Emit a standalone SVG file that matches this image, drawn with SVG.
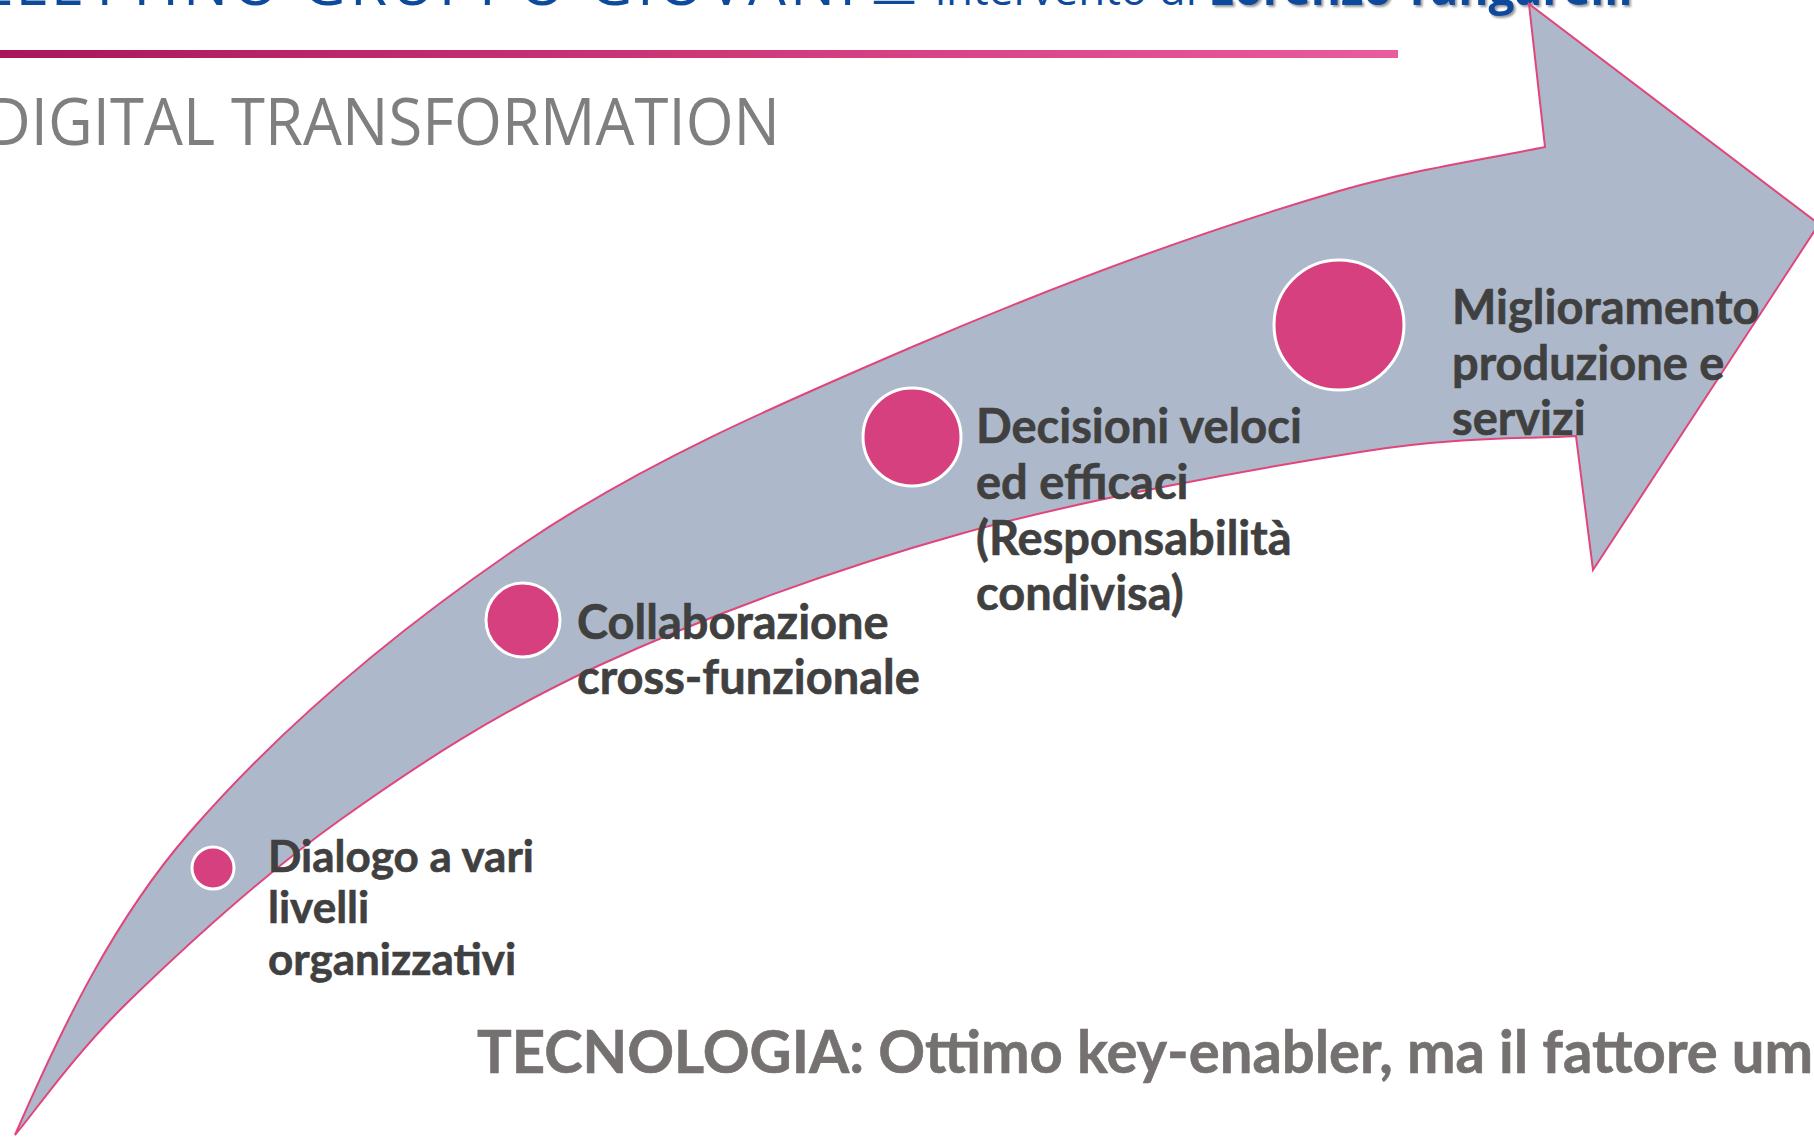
<svg xmlns="http://www.w3.org/2000/svg" width="1814" height="1137" viewBox="0 0 1814 1137">
<defs>
<linearGradient id="bar" x1="0" y1="0" x2="1" y2="0">
<stop offset="0" stop-color="#a8175a"/>
<stop offset="0.5" stop-color="#cf3777"/>
<stop offset="1" stop-color="#ea5c9b"/>
</linearGradient>
<filter id="sh" x="-5%" y="-50%" width="110%" height="200%">
<feDropShadow dx="2" dy="2" stdDeviation="1.2" flood-color="#555" flood-opacity="0.6"/>
</filter>
<style>
.lbl{font-family:Lato,"Open Sans",sans-serif;font-weight:700;fill:#404040;stroke:#404040;stroke-width:0.6px}
.l1{font-size:44px}
.l2{font-size:47px}
.dot{fill:#d6407e;stroke:#ffffff;stroke-width:3}
.hdr{font-family:"Open Sans","Liberation Sans",sans-serif;fill:#0d4a9c}
</style>
</defs>
<rect width="1814" height="1137" fill="#ffffff"/>
<g id="header">
<text class="hdr" x="860" y="5" font-size="60" letter-spacing="4" text-anchor="end">BOLLETTINO GRUPPO GIOVANI</text>
<text class="hdr" x="872" y="14" font-size="44">—</text>
<text class="hdr" x="935" y="5" font-size="44">intervento di <tspan font-weight="700" font-size="46" filter="url(#sh)">Lorenzo Tangarelli</tspan></text>
<rect x="0" y="50" width="1398" height="8" fill="url(#bar)"/>
<text x="-14" y="145" font-family="'Open Sans','Liberation Sans',sans-serif" font-size="66" fill="#7f7f7f" textLength="794" lengthAdjust="spacingAndGlyphs">DIGITAL TRANSFORMATION</text>
</g>
<g id="connectors">
<path id="arrow" fill="#adb9ca" stroke="#e0457b" stroke-width="2" stroke-linejoin="miter" d="M15,1135 C61.7,1027.7 113.2,920.3 190,832 C286.4,721 401.4,626.6 523,544 C643,462.5 778.7,404.3 912,347 C1051.7,287 1193.1,233.6 1339,191 C1406.2,171.4 1476.4,160.7 1545,147 L1529,4 L1819,224 L1593,570 L1576,436 C1540,438.7 1462.7,435.7 1360,452 C1257.3,468.3 1086.7,498.5 960,534 C833.3,569.5 703.3,617.3 600,665 C496.7,712.7 418.3,764.2 340,820 C261.7,875.8 184.2,947.5 130,1000 C75.8,1052.5 34.2,1112.5 15,1135 Z"/>
</g>
<g id="step1">
<circle class="dot" cx="213" cy="868" r="21"/>
<text class="lbl l1" x="268" y="872">Dialogo a vari</text>
<text class="lbl l1" x="268" y="923">livelli</text>
<text class="lbl l1" x="268" y="975">organizzativi</text>
</g>
<g id="step2">
<circle class="dot" cx="523" cy="620" r="37"/>
<text class="lbl l2" x="577" y="639">Collaborazione</text>
<text class="lbl l2" x="577" y="694">cross-funzionale</text>
</g>
<g id="step3">
<circle class="dot" cx="912" cy="437" r="49"/>
<text class="lbl l2" x="976" y="443">Decisioni veloci</text>
<text class="lbl l2" x="976" y="499">ed efficaci</text>
<text class="lbl l2" x="976" y="555">(Responsabilità</text>
<text class="lbl l2" x="976" y="610">condivisa)</text>
</g>
<g id="step4">
<circle class="dot" cx="1339" cy="325" r="65"/>
<text class="lbl l2" x="1452" y="324">Miglioramento</text>
<text class="lbl l2" x="1452" y="380">produzione e</text>
<text class="lbl l2" x="1452" y="435">servizi</text>
</g>
<g id="footer">
<text x="477" y="1073" font-family="Lato,'Open Sans',sans-serif" font-weight="700" font-size="60" fill="#767171" stroke="#767171" stroke-width="0.6" textLength="1336" lengthAdjust="spacingAndGlyphs">TECNOLOGIA: Ottimo key-enabler, ma il fattore um</text>
</g>
</svg>
